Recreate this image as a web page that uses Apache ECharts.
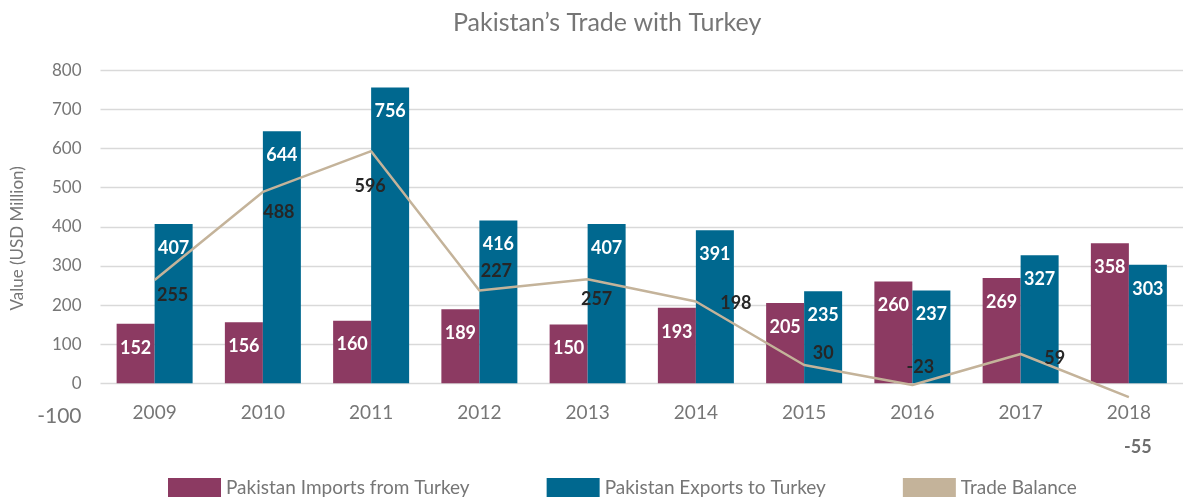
<!DOCTYPE html>
<html>
<head>
<meta charset="utf-8">
<script src="https://cdn.jsdelivr.net/npm/echarts@6/dist/echarts.min.js"></script>
<style>
html,body{margin:0;padding:0;background:#fff;}
#chart{width:1183px;height:497px;}
</style>
</head>
<body>
<div id="chart"></div>
<script>
// ---- data ----
const categories = ['2009','2010','2011','2012','2013','2014','2015','2016','2017','2018'];
const importsFromTurkey = [152,156,160,189,150,193,205,260,269,358];
const exportsToTurkey = [407,644,756,416,407,391,235,237,327,303];
const tradeBalance = [255,488,596,227,257,198,30,-23,59,-55];
const yMin = -100, yMax = 800, yStep = 100;

// ---- styles ----
const FONT = 'Lato';
const GRAY = '#767676';
const tbLabelOffsets = [[18,15],[16,20],[-1,35],[17,-19],[9,20],[40,2],[19,-12],[8,-18],[34,4],[9,50]];

const chart = echarts.init(document.getElementById('chart'), null, {renderer:'canvas'});

const nLines = Math.round((yMax - yMin) / yStep) + 1;
const gridColors = [];
for (let i = 0; i < nLines; i++) gridColors.push(i === 0 ? 'rgba(0,0,0,0)' : '#d9d9d9');

const option = {
  backgroundColor: '#fff',
  animation: false,
  title: {
    text: 'Pakistan\u2019s Trade with Turkey',
    left: 453, top: 10,
    padding: 0,
    textStyle: {fontFamily: FONT, fontSize: 25, fontWeight: 'normal', color: GRAY}
  },
  legend: {
    left: 168, top: 478,
    padding: 0,
    itemWidth: 53, itemHeight: 19, itemGap: 77,
    icon: 'rect',
    textStyle: {fontFamily: FONT, fontSize: 19, color: GRAY},
    data: ['Pakistan Imports from Turkey','Pakistan Exports to Turkey','Trade Balance']
  },
  grid: {left: 100.5, right: -6.5, top: 70.3, bottom: 74.6, containLabel: false},
  xAxis: {
    type: 'category',
    data: categories,
    axisLine: {show: false, onZero: false},
    axisTick: {show: false},
    axisLabel: {fontFamily: FONT, fontSize: 19, color: GRAY, margin: -19}
  },
  yAxis: [{
    type: 'value',
    min: yMin, max: yMax, interval: yStep,
    name: 'Value (USD Million)',
    nameLocation: 'middle',
    nameGap: 70,
    nameTextStyle: {fontFamily: FONT, fontSize: 17, color: GRAY, padding: [0,0,0,16]},
    axisLine: {show: false},
    axisTick: {show: false},
    splitLine: {show: true, lineStyle: {color: gridColors, width: 1.3}},
    axisLabel: {
      fontFamily: FONT, fontSize: 17, color: GRAY, margin: 19,
      formatter: function(v){ return v === yMin ? '{big|' + v + '}' : String(v); },
      rich: {big: {fontFamily: FONT, fontSize: 21, color: GRAY, padding: [0,0,12,0]}}
    }
  },{
    type: 'value',
    min: -122, max: 810,
    show: false,
    splitLine: {show: false}
  }],
  series: [{
    name: 'Pakistan Imports from Turkey',
    type: 'bar',
    data: importsFromTurkey,
    barWidth: 38,
    barGap: '0%',
    itemStyle: {color: '#8C3A62'},
    label: {show: true, position: 'insideTop', distance: 15, color: '#fff',
            fontFamily: FONT, fontSize: 18, fontWeight: 'bold'}
  },{
    name: 'Pakistan Exports to Turkey',
    type: 'bar',
    data: exportsToTurkey,
    barWidth: 38,
    itemStyle: {color: '#00688F'},
    label: {show: true, position: 'insideTop', distance: 15, color: '#fff',
            fontFamily: FONT, fontSize: 18, fontWeight: 'bold'}
  },{
    name: 'Trade Balance',
    type: 'line',
    yAxisIndex: 1,
    z: 5,
    symbol: 'circle',
    symbolSize: 0.1,
    itemStyle: {color: '#C4B39A'},
    lineStyle: {color: '#C4B39A', width: 2.5},
    data: tradeBalance.map(function(v, i){
      const isLast = i === tradeBalance.length - 1;
      return {
        value: v,
        label: {offset: tbLabelOffsets[i], color: isLast ? '#6e6e6e' : '#262626'}
      };
    }),
    label: {show: true, position: 'inside', align: 'center', verticalAlign: 'middle',
            fontFamily: FONT, fontSize: 18, fontWeight: 'bold', color: '#262626'}
  }]
};
chart.setOption(option);
</script>
</body>
</html>
